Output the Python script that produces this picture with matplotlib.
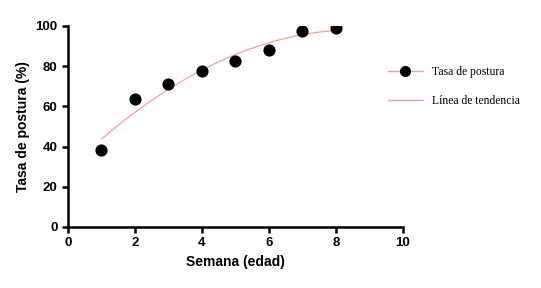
import numpy as np
import matplotlib
matplotlib.use("Agg")
import matplotlib.pyplot as plt
from matplotlib.lines import Line2D

weeks = [1, 2, 3, 4, 5, 6, 7, 8]
rate = [38.5, 63.5, 71.3, 77.8, 82.5, 88.0, 97.5, 99.0]
xticks = [0, 2, 4, 6, 8, 10]
yticks = [0, 20, 40, 60, 80, 100]

coef = np.polyfit(weeks, rate, 2)
xt = np.linspace(1, 8, 200)
yt = np.polyval(coef, xt)

fig = plt.figure(figsize=(5.41, 2.88), dpi=100)
ax = fig.add_axes([0.1257, 0.212, 0.619, 0.698])
trend_color = "#f4a0a0"
ax.plot(xt, yt, color=trend_color, lw=0.9, zorder=2)
ax.scatter(weeks, rate, s=60, color="black", zorder=3)
ax.set_xlim(0, 10)
ax.set_ylim(0, 100)
ax.set_xticks(xticks)
ax.set_yticks(yticks)
for s in ["top", "right"]:
    ax.spines[s].set_visible(False)
for s in ["left", "bottom"]:
    ax.spines[s].set_linewidth(1.8)
ax.tick_params(width=1.8, length=4, labelsize=9.5)
for lab in ax.get_xticklabels() + ax.get_yticklabels():
    lab.set_fontfamily("Liberation Sans")
    lab.set_fontweight("bold")
ax.set_xlabel("Semana (edad)", fontsize=10, fontweight="bold", family="Liberation Sans")
ax.set_ylabel("Tasa de postura (%)", fontsize=10, fontweight="bold", family="Liberation Sans")

handles = [
    Line2D([0], [0], color=trend_color, lw=1, marker="o", markersize=7, markerfacecolor="black", markeredgecolor="black"),
    Line2D([0], [0], color=trend_color, lw=1),
]
fig.legend(handles, ["Tasa de postura", "Línea de tendencia"], loc="center left",
           bbox_to_anchor=(0.697, 0.700), frameon=False,
           prop={"family": "Liberation Serif", "size": 8.4}, handlelength=3.0,
           handletextpad=0.8, labelspacing=1.45)
fig.savefig("out.png", dpi=100)
